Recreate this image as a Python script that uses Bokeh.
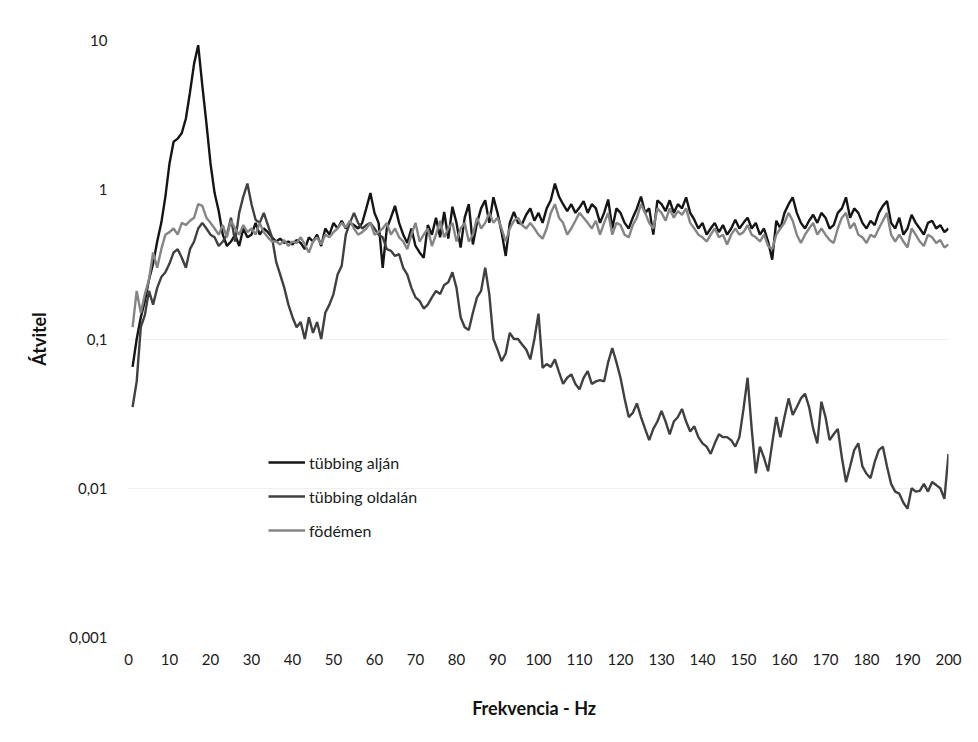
from bokeh.plotting import figure
from bokeh.models import FixedTicker, Legend, LegendItem
from bokeh.embed import file_html
from bokeh.resources import INLINE

freq = list(range(1, 201))

tubbing_aljan = [
    0.065, 0.1, 0.14, 0.18, 0.25, 0.32, 0.45, 0.6, 0.9, 1.5,
    2.1, 2.2, 2.4, 3.0, 4.5, 7.0, 9.3, 5.0, 2.8, 1.5,
    0.95, 0.72, 0.5, 0.42, 0.45, 0.5, 0.42, 0.55, 0.48, 0.5,
    0.6, 0.5, 0.55, 0.52, 0.48, 0.45, 0.47, 0.44, 0.45, 0.43,
    0.46, 0.44, 0.4, 0.48, 0.45, 0.5, 0.42, 0.55, 0.5, 0.6,
    0.55, 0.62, 0.55, 0.6, 0.58, 0.55, 0.6, 0.75, 0.95, 0.7,
    0.6, 0.3, 0.55, 0.65, 0.78, 0.6, 0.5, 0.44, 0.55, 0.42,
    0.38, 0.35, 0.58, 0.5, 0.65, 0.48, 0.71, 0.47, 0.77, 0.6,
    0.41, 0.65, 0.8, 0.43, 0.6, 0.75, 0.85, 0.6, 0.89, 0.7,
    0.52, 0.36, 0.6, 0.71, 0.6, 0.59, 0.68, 0.75, 0.62, 0.7,
    0.6, 0.75, 0.85, 1.1, 0.9, 0.8, 0.72, 0.8, 0.7, 0.76,
    0.84, 0.7, 0.8, 0.75, 0.6, 0.7, 0.86, 0.55, 0.75, 0.7,
    0.6, 0.55, 0.65, 0.75, 0.9, 0.7, 0.75, 0.5, 0.85, 0.8,
    0.72, 0.85, 0.7, 0.8, 0.75, 0.89, 0.7, 0.63, 0.55, 0.6,
    0.5, 0.55, 0.6, 0.52, 0.58, 0.5, 0.55, 0.63, 0.55, 0.6,
    0.65, 0.55, 0.6, 0.5, 0.55, 0.45, 0.34, 0.62, 0.55, 0.7,
    0.8, 0.89, 0.7, 0.6, 0.55, 0.62, 0.68, 0.6, 0.7, 0.65,
    0.55, 0.58, 0.7, 0.75, 0.89, 0.65, 0.75, 0.7, 0.6, 0.55,
    0.62, 0.58, 0.7, 0.78, 0.84, 0.6, 0.55, 0.65, 0.5, 0.55,
    0.68, 0.6, 0.55, 0.5, 0.6, 0.62, 0.55, 0.58, 0.52, 0.55,
]

tubbing_oldalan = [
    0.035, 0.052, 0.12, 0.145, 0.21, 0.17, 0.22, 0.26, 0.28, 0.32,
    0.38, 0.4, 0.35, 0.3, 0.4, 0.45, 0.55, 0.6, 0.55, 0.5,
    0.48, 0.42, 0.45, 0.5, 0.65, 0.45, 0.7, 0.9, 1.1, 0.8,
    0.63, 0.6, 0.7, 0.58, 0.48, 0.33, 0.27, 0.22, 0.17, 0.14,
    0.12, 0.13, 0.1, 0.14, 0.11, 0.13, 0.1, 0.15, 0.17, 0.2,
    0.27, 0.31, 0.5, 0.6, 0.7, 0.6, 0.55, 0.58, 0.6, 0.55,
    0.5, 0.48, 0.4, 0.39, 0.36, 0.37, 0.3, 0.27, 0.22, 0.19,
    0.18, 0.16, 0.17, 0.19, 0.21, 0.2, 0.23, 0.24, 0.28, 0.22,
    0.14, 0.12, 0.115, 0.15, 0.19, 0.21, 0.3, 0.2, 0.1, 0.085,
    0.071, 0.08, 0.11, 0.1, 0.1, 0.092, 0.085, 0.073, 0.1, 0.148,
    0.064, 0.068, 0.065, 0.073, 0.06, 0.05, 0.055, 0.058, 0.05, 0.046,
    0.055, 0.061, 0.05, 0.052, 0.053, 0.052, 0.07, 0.087, 0.07, 0.055,
    0.04, 0.03, 0.032, 0.037, 0.03, 0.025, 0.021, 0.025, 0.028, 0.033,
    0.028, 0.023, 0.028, 0.03, 0.034, 0.028, 0.024, 0.026, 0.022, 0.02,
    0.019, 0.017, 0.02, 0.023, 0.022, 0.022, 0.021, 0.019, 0.022, 0.034,
    0.055, 0.025, 0.0126, 0.019, 0.016, 0.013, 0.02, 0.03, 0.022, 0.03,
    0.04, 0.031, 0.035, 0.04, 0.043, 0.035, 0.025, 0.02, 0.038, 0.03,
    0.021, 0.023, 0.025, 0.016, 0.011, 0.014, 0.018, 0.02, 0.014, 0.0125,
    0.0117, 0.015, 0.018, 0.019, 0.014, 0.0107, 0.0095, 0.0092, 0.008, 0.0073,
    0.01, 0.0095, 0.0096, 0.0107, 0.0095, 0.011, 0.0105, 0.01, 0.0085, 0.017,
]

fodemen = [
    0.12, 0.21, 0.15, 0.2, 0.25, 0.38, 0.3, 0.4, 0.5, 0.52,
    0.55, 0.5, 0.6, 0.58, 0.62, 0.65, 0.8, 0.78, 0.65, 0.6,
    0.55, 0.5, 0.58, 0.48, 0.62, 0.55, 0.5, 0.58, 0.52, 0.55,
    0.5, 0.6, 0.52, 0.48, 0.45, 0.45, 0.43, 0.46, 0.42, 0.45,
    0.44, 0.48, 0.43, 0.38, 0.45, 0.48, 0.43, 0.5, 0.48, 0.52,
    0.55, 0.6, 0.56, 0.62, 0.55, 0.5, 0.52, 0.55, 0.6, 0.5,
    0.52, 0.55, 0.6, 0.5, 0.55, 0.48, 0.45, 0.4, 0.5, 0.6,
    0.45, 0.5, 0.55, 0.42, 0.5, 0.62, 0.48, 0.55, 0.6, 0.45,
    0.55, 0.6, 0.45, 0.5, 0.65, 0.55, 0.6, 0.7, 0.6, 0.65,
    0.55, 0.45, 0.55, 0.62, 0.65, 0.58, 0.55, 0.6, 0.55, 0.5,
    0.47, 0.55, 0.7, 0.8, 0.65, 0.6, 0.5, 0.55, 0.62, 0.7,
    0.65, 0.6, 0.55, 0.62, 0.5, 0.6, 0.7, 0.5, 0.6, 0.58,
    0.5, 0.48, 0.58, 0.65, 0.8, 0.7, 0.6, 0.55, 0.75, 0.7,
    0.62, 0.75, 0.65, 0.72, 0.68, 0.75, 0.6, 0.55, 0.5, 0.48,
    0.45, 0.5, 0.55, 0.48, 0.5, 0.43, 0.5, 0.55, 0.5, 0.52,
    0.58, 0.5, 0.48, 0.45, 0.5, 0.42, 0.4, 0.5, 0.55, 0.6,
    0.7, 0.62, 0.5, 0.44, 0.5, 0.55, 0.6, 0.5, 0.55, 0.5,
    0.46, 0.44, 0.55, 0.65, 0.7, 0.55, 0.6, 0.5, 0.48, 0.44,
    0.5, 0.48, 0.55, 0.62, 0.7, 0.5, 0.45, 0.5, 0.45, 0.41,
    0.55, 0.5, 0.45, 0.42, 0.5, 0.48, 0.44, 0.46, 0.41, 0.43,
]

series_names = ["tübbing alján", "tübbing oldalán", "födémen"]
x_ticks = list(range(0, 201, 10))
y_ticks = [0.001, 0.01, 0.1, 1, 10]
y_tick_labels = ["0,001", "0,01", "0,1", "1", "10"]

FONT = "Lato"

p = figure(width=962, height=726, output_backend="svg", toolbar_location=None,
           x_range=(0, 200), y_range=(0.001, 10), y_axis_type="log",
           min_border_left=128, min_border_right=14, min_border_top=40,
           min_border_bottom=89)
p.outline_line_color = None
p.background_fill_color = "white"
p.border_fill_color = "white"

r1 = p.line(freq, tubbing_aljan, line_color="#151515", line_width=2.4)
r2 = p.line(freq, tubbing_oldalan, line_color="#404040", line_width=2.4)
r3 = p.line(freq, fodemen, line_color="#858585", line_width=2.4)

p.xaxis.ticker = FixedTicker(ticks=x_ticks)
p.yaxis.ticker = FixedTicker(ticks=y_ticks)
p.yaxis.major_label_overrides = {t: l for t, l in zip(y_ticks, y_tick_labels)}

for ax in (p.xaxis[0], p.yaxis[0]):
    ax.axis_line_color = None
    ax.major_tick_line_color = None
    ax.minor_tick_line_color = None
    ax.major_label_text_font = FONT
    ax.major_label_text_font_size = "15px"
    ax.major_label_text_color = "#1a1a1a"
    ax.axis_label_text_font = FONT
    ax.axis_label_text_font_size = "18px"
    ax.axis_label_text_font_style = "bold"
    ax.axis_label_text_color = "#111111"

p.xaxis.major_label_standoff = 10
p.yaxis.major_label_standoff = 15
p.xaxis.axis_label = "Frekvencia  -  Hz"
p.yaxis.axis_label = "Átvitel"
p.xaxis.axis_label_standoff = 29
p.yaxis.axis_label_standoff = 16

p.xgrid.grid_line_color = None
p.ygrid.grid_line_color = "#f0f0f0"
p.ygrid.ticker = FixedTicker(ticks=[0.01, 0.1])

legend = Legend(items=[LegendItem(label=series_names[0], renderers=[r1]),
                       LegendItem(label=series_names[1], renderers=[r2]),
                       LegendItem(label=series_names[2], renderers=[r3])],
                location=(140, 97))
legend.background_fill_alpha = 0
legend.border_line_color = None
legend.padding = 0
legend.margin = 0
legend.glyph_width = 37
legend.glyph_height = 20
legend.spacing = 14
legend.label_standoff = 4
legend.label_text_font = FONT
legend.label_text_font_size = "16px"
legend.label_text_color = "#1a1a1a"
p.add_layout(legend)

open("out.html", "w").write(file_html(p, INLINE))
